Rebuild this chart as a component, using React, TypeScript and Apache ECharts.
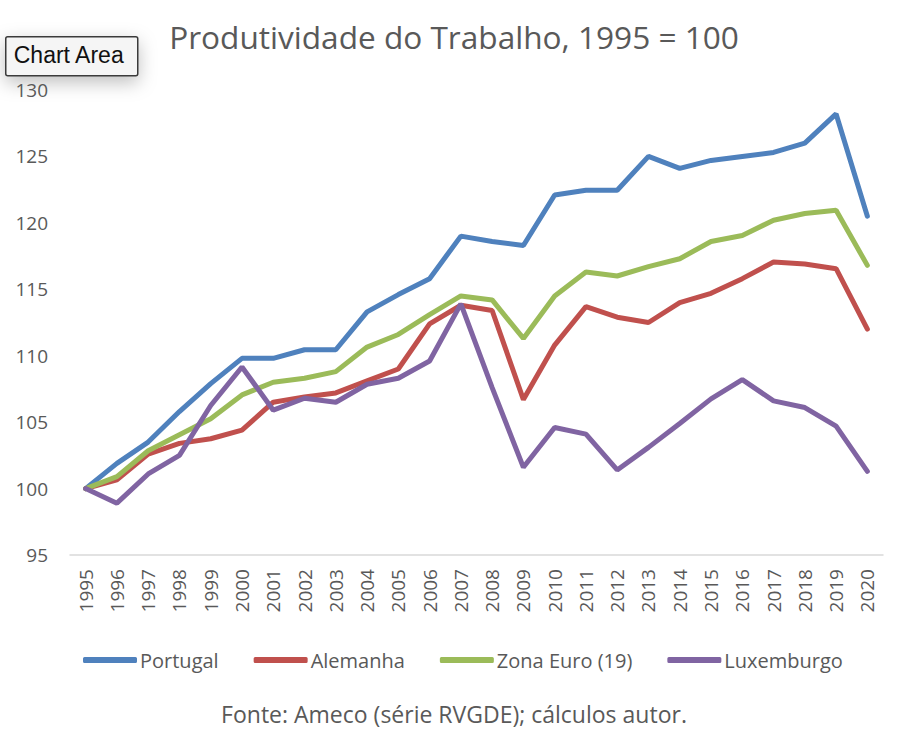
import * as echarts from "echarts";
import { useEffect, useRef } from "react";

const years = [
  "1995", "1996", "1997", "1998", "1999", "2000", "2001", "2002", "2003",
  "2004", "2005", "2006", "2007", "2008", "2009", "2010", "2011", "2012",
  "2013", "2014", "2015", "2016", "2017", "2018", "2019", "2020",
];

const portugal = [
  100, 101.9, 103.5, 105.8, 107.9, 109.8, 109.8, 110.45, 110.45, 113.3, 114.6,
  115.8, 119.0, 118.6, 118.3, 122.1, 122.45, 122.45, 125.0, 124.1, 124.7,
  125.0, 125.3, 126.0, 128.2, 120.5,
];
const alemanha = [
  100, 100.65, 102.6, 103.4, 103.75, 104.4, 106.5, 106.9, 107.2, 108.1, 109.0,
  112.4, 113.8, 113.4, 106.7, 110.8, 113.7, 112.9, 112.5, 114.0, 114.7, 115.8,
  117.05, 116.9, 116.55, 112.0,
];
const zonaEuro = [
  100, 100.9, 102.85, 104.05, 105.25, 107.05, 108.0, 108.3, 108.8, 110.65,
  111.6, 113.1, 114.5, 114.2, 111.3, 114.5, 116.3, 116.0, 116.7, 117.3, 118.6,
  119.05, 120.2, 120.7, 120.95, 116.8,
];
const luxemburgo = [
  100, 98.9, 101.1, 102.5, 106.25, 109.15, 105.9, 106.8, 106.5, 107.85, 108.3,
  109.6, 113.9, 107.6, 101.6, 104.6, 104.1, 101.4, 103.1, 104.9, 106.75, 108.2,
  106.6, 106.1, 104.7, 101.3,
];

const seriesNames = ["Portugal", "Alemanha", "Zona Euro (19)", "Luxemburgo"];
const seriesColors = ["#4f81bd", "#c0504d", "#9bbb59", "#8064a2"];
const seriesValues = [portugal, alemanha, zonaEuro, luxemburgo];

const FONT = "'Open Sans', 'Noto Sans', sans-serif";
const TEXT_GREY = "#595959";

export default function App() {
  const chartRef = useRef<HTMLDivElement | null>(null);

  useEffect(() => {
    document.body.style.margin = "0";
    const el = chartRef.current;
    if (!el) return;

    const chart = echarts.init(el, undefined, { renderer: "svg" });

    const series = seriesValues.map((data, idx) => ({
      name: seriesNames[idx],
      type: "line" as const,
      data,
      symbol: "none",
      lineStyle: { width: 5, color: seriesColors[idx], cap: "round" as const },
      itemStyle: { color: seriesColors[idx] },
    }));

    const option: echarts.EChartsOption = {
      animation: false,
      backgroundColor: "#ffffff",
      textStyle: { fontFamily: FONT },
      title: [
        {
          text: "Produtividade do Trabalho, 1995 = 100",
          left: "center",
          top: 15,
          textStyle: {
            fontSize: 31.6,
            fontWeight: "normal",
            color: TEXT_GREY,
            fontFamily: FONT,
          },
        },
        {
          text: "Fonte: Ameco (série RVGDE); cálculos autor.",
          left: "center",
          top: 697,
          textStyle: {
            fontSize: 23,
            fontWeight: "normal",
            color: TEXT_GREY,
            fontFamily: FONT,
          },
        },
      ],
      grid: { left: 70, right: 25, top: 90, bottom: 193 },
      xAxis: {
        type: "category",
        data: years,
        boundaryGap: true,
        axisLine: { lineStyle: { color: "#d9d9d9", width: 1.5 } },
        axisTick: { show: false },
        axisLabel: {
          rotate: 90,
          interval: 0,
          fontSize: 19,
          color: TEXT_GREY,
          margin: 14,
          fontFamily: FONT,
        },
      },
      yAxis: {
        type: "value",
        min: 95,
        max: 130,
        interval: 5,
        axisLine: { show: false },
        axisTick: { show: false },
        splitLine: { show: false },
        axisLabel: {
          fontSize: 19,
          color: TEXT_GREY,
          margin: 22,
          fontFamily: FONT,
        },
      },
      legend: {
        top: 645,
        left: 78,
        icon: "roundRect",
        itemWidth: 54,
        itemHeight: 6,
        itemGap: 35,
        textStyle: { fontSize: 20, color: TEXT_GREY, padding: [0, 0, 0, -2] },
        data: seriesNames,
      },
      graphic: [
        {
          type: "group",
          left: 5,
          top: 36,
          children: [
            {
              type: "rect",
              shape: { x: 0, y: 0, width: 132, height: 39, r: 2 },
              style: {
                fill: "#f5f5f5",
                stroke: "#3a3a3a",
                lineWidth: 1.5,
                shadowBlur: 18,
                shadowColor: "rgba(0,0,0,0.25)",
                shadowOffsetY: 6,
              },
            },
            {
              type: "text",
              x: 8,
              y: 7,
              style: {
                text: "Chart Area",
                fontSize: 23,
                fill: "#111111",
                fontFamily: "'Liberation Sans', sans-serif",
              },
            },
          ],
        },
      ],
      series,
    };

    chart.setOption(option, { notMerge: true });

    return () => {
      if (!chart.isDisposed()) chart.dispose();
    };
  }, []);

  return <div ref={chartRef} style={{ width: 908, height: 748 }} />;
}
